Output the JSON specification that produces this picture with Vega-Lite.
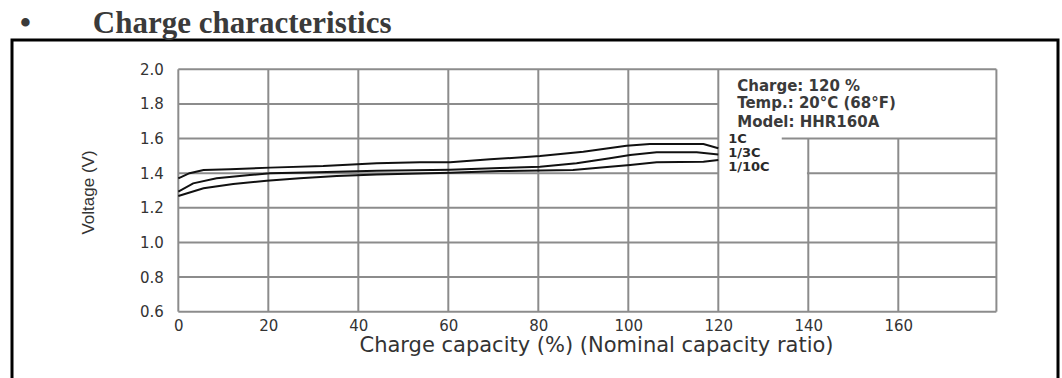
{
  "$schema": "https://vega.github.io/schema/vega-lite/v6.json",
  "width": 1046,
  "height": 340,
  "autosize": {"type": "none"},
  "padding": {"left": 12, "top": 40, "right": 4, "bottom": -2},
  "background": "white",
  "title": {
    "text": "\u2022\u2003\u00a0\u00a0\u00a0\u00a0Charge characteristics",
    "anchor": "start",
    "frame": "group",
    "dx": 8,
    "dy": 32,
    "offset": 8,
    "baseline": "alphabetic",
    "font": "Liberation Serif",
    "fontSize": 31,
    "fontWeight": "bold",
    "color": "#3a3a3a"
  },
  "config": {"view": {"stroke": "#000000", "strokeWidth": 3}},
  "datasets": {
    "grid": [
      {"x": 0, "x2": 0, "v": 0.6, "v2": 2.0},
      {"x": 20, "x2": 20, "v": 0.6, "v2": 2.0},
      {"x": 40, "x2": 40, "v": 0.6, "v2": 2.0},
      {"x": 60, "x2": 60, "v": 0.6, "v2": 2.0},
      {"x": 80, "x2": 80, "v": 0.6, "v2": 2.0},
      {"x": 100, "x2": 100, "v": 0.6, "v2": 2.0},
      {"x": 120, "x2": 120, "v": 0.6, "v2": 2.0},
      {"x": 140, "x2": 140, "v": 0.6, "v2": 1.6},
      {"x": 160, "x2": 160, "v": 0.6, "v2": 1.6},
      {"x": 181.8, "x2": 181.8, "v": 0.6, "v2": 2.0},
      {"x": 0, "x2": 181.8, "v": 0.6, "v2": 0.6},
      {"x": 0, "x2": 181.8, "v": 0.8, "v2": 0.8},
      {"x": 0, "x2": 181.8, "v": 1.0, "v2": 1.0},
      {"x": 0, "x2": 181.8, "v": 1.2, "v2": 1.2},
      {"x": 0, "x2": 120, "v": 1.4, "v2": 1.4},
      {"x": 139.7, "x2": 181.8, "v": 1.4, "v2": 1.4},
      {"x": 0, "x2": 120, "v": 1.6, "v2": 1.6},
      {"x": 134.1, "x2": 181.8, "v": 1.6, "v2": 1.6},
      {"x": 0, "x2": 120, "v": 1.8, "v2": 1.8},
      {"x": 0, "x2": 181.8, "v": 2.0, "v2": 2.0}
    ],
    "curves": [
      {"series": "1C", "x": 0, "v": 1.370},
      {"series": "1C", "x": 2.5, "v": 1.400},
      {"series": "1C", "x": 5.6, "v": 1.418},
      {"series": "1C", "x": 11.5, "v": 1.422},
      {"series": "1C", "x": 20.4, "v": 1.432},
      {"series": "1C", "x": 32.2, "v": 1.441},
      {"series": "1C", "x": 44.1, "v": 1.457},
      {"series": "1C", "x": 53.7, "v": 1.463},
      {"series": "1C", "x": 60.4, "v": 1.463},
      {"series": "1C", "x": 69.3, "v": 1.480},
      {"series": "1C", "x": 80.4, "v": 1.499},
      {"series": "1C", "x": 90.0, "v": 1.524},
      {"series": "1C", "x": 99.6, "v": 1.559},
      {"series": "1C", "x": 104.8, "v": 1.568},
      {"series": "1C", "x": 116.7, "v": 1.568},
      {"series": "1C", "x": 120, "v": 1.544},
      {"series": "1/3C", "x": 0, "v": 1.293},
      {"series": "1/3C", "x": 3.3, "v": 1.341},
      {"series": "1/3C", "x": 8.5, "v": 1.370},
      {"series": "1/3C", "x": 15.9, "v": 1.389},
      {"series": "1/3C", "x": 20.4, "v": 1.399},
      {"series": "1/3C", "x": 30.8, "v": 1.405},
      {"series": "1/3C", "x": 44.1, "v": 1.414},
      {"series": "1/3C", "x": 60.4, "v": 1.420},
      {"series": "1/3C", "x": 71.5, "v": 1.430},
      {"series": "1/3C", "x": 80.4, "v": 1.437},
      {"series": "1/3C", "x": 88.5, "v": 1.457},
      {"series": "1/3C", "x": 95.9, "v": 1.486},
      {"series": "1/3C", "x": 100.4, "v": 1.505},
      {"series": "1/3C", "x": 106.3, "v": 1.521},
      {"series": "1/3C", "x": 115.2, "v": 1.521},
      {"series": "1/3C", "x": 120, "v": 1.508},
      {"series": "1/10C", "x": 0, "v": 1.268},
      {"series": "1/10C", "x": 5.6, "v": 1.313},
      {"series": "1/10C", "x": 12.2, "v": 1.337},
      {"series": "1/10C", "x": 19.6, "v": 1.356},
      {"series": "1/10C", "x": 27.0, "v": 1.370},
      {"series": "1/10C", "x": 35.2, "v": 1.384},
      {"series": "1/10C", "x": 44.1, "v": 1.393},
      {"series": "1/10C", "x": 60.4, "v": 1.402},
      {"series": "1/10C", "x": 71.5, "v": 1.412},
      {"series": "1/10C", "x": 87.7, "v": 1.418},
      {"series": "1/10C", "x": 95.9, "v": 1.437},
      {"series": "1/10C", "x": 100.4, "v": 1.447},
      {"series": "1/10C", "x": 106.3, "v": 1.463},
      {"series": "1/10C", "x": 116.7, "v": 1.466},
      {"series": "1/10C", "x": 120, "v": 1.476}
    ],
    "seriesLabels": [
      {"x": 122.2, "v": 1.597, "label": "1C"},
      {"x": 122.2, "v": 1.516, "label": "1/3C"},
      {"x": 122.2, "v": 1.436, "label": "1/10C"}
    ],
    "notes": [
      {"x": 124.2, "v": 1.904, "label": "Charge: 120 %"},
      {"x": 124.2, "v": 1.805, "label": "Temp.: 20°C (68°F)"},
      {"x": 124.2, "v": 1.696, "label": "Model: HHR160A"}
    ]
  },
  "encoding": {
    "x": {
      "field": "x",
      "type": "quantitative",
      "scale": {"domain": [-36.96, 195.49], "nice": false, "zero": false},
      "axis": {
        "values": [0, 20, 40, 60, 80, 100, 120, 140, 160],
        "offset": -68.3,
        "grid": false,
        "domain": false,
        "ticks": false,
        "labelFlush": false,
        "labelOverlap": false,
        "labelPadding": 7,
        "labelFont": "DejaVu Sans",
        "labelFontSize": 15,
        "labelFontWeight": "normal",
        "labelColor": "#333333",
        "title": "Charge capacity (%) (Nominal capacity ratio)",
        "titleFont": "DejaVu Sans",
        "titleFontSize": 21,
        "titleFontWeight": "normal",
        "titleColor": "#333333",
        "titleX": 584,
        "titleY": 34,
        "titleBaseline": "middle",
        "titleAlign": "center"
      }
    },
    "y": {
      "field": "v",
      "type": "quantitative",
      "scale": {"domain": [0.2051, 2.1693], "nice": false, "zero": false},
      "axis": {
        "values": [0.6, 0.8, 1.0, 1.2, 1.4, 1.6, 1.8, 2.0],
        "format": ".1f",
        "offset": -166.3,
        "grid": false,
        "domain": false,
        "ticks": false,
        "labelPadding": 15,
        "labelFont": "DejaVu Sans",
        "labelFontSize": 15,
        "labelFontWeight": "normal",
        "labelColor": "#333333",
        "title": "Voltage (V)",
        "titleFont": "Liberation Sans",
        "titleFontSize": 17,
        "titleFontWeight": "normal",
        "titleColor": "#333333",
        "titleAngle": -90,
        "titleX": -90.3,
        "titleY": 152,
        "titleBaseline": "middle",
        "titleAlign": "center"
      }
    }
  },
  "layer": [
    {
      "data": {"name": "grid"},
      "mark": {"type": "rule", "color": "#8c8c8c", "strokeWidth": 2},
      "encoding": {
        "x2": {"field": "x2"},
        "y2": {"field": "v2"}
      }
    },
    {
      "data": {"name": "curves"},
      "mark": {"type": "line", "color": "#111111", "strokeWidth": 2},
      "encoding": {
        "detail": {"field": "series", "type": "nominal"}
      }
    },
    {
      "data": {"name": "seriesLabels"},
      "mark": {"type": "text", "align": "left", "baseline": "middle", "font": "DejaVu Sans", "fontSize": 13, "fontWeight": "bold", "color": "#2a2a2a"},
      "encoding": {"text": {"field": "label"}}
    },
    {
      "data": {"name": "notes"},
      "mark": {"type": "text", "align": "left", "baseline": "middle", "font": "DejaVu Sans", "fontSize": 15, "fontWeight": "bold", "color": "#3a3a3a"},
      "encoding": {"text": {"field": "label"}}
    }
  ]
}
